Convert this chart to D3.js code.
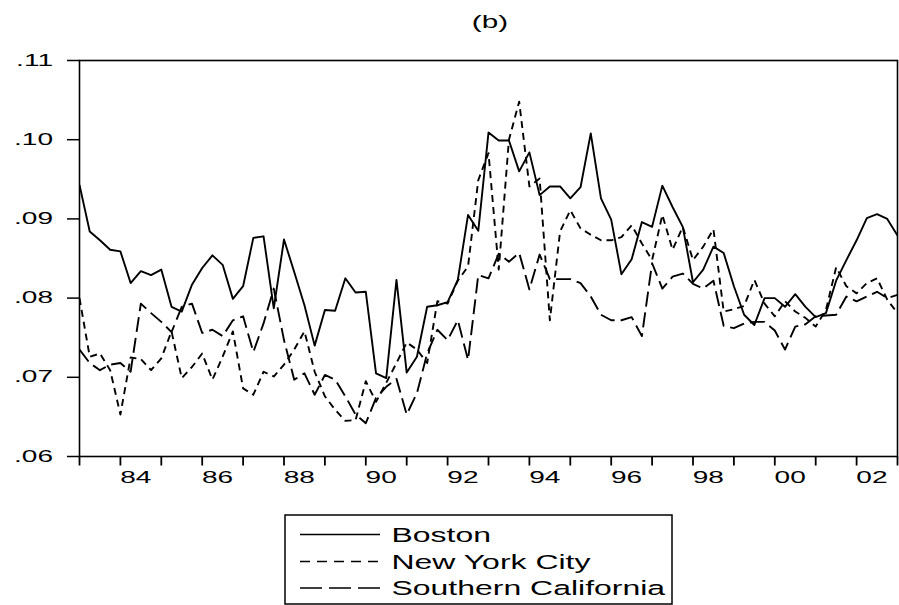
<!DOCTYPE html>
<html>
<head>
<meta charset="utf-8">
<script src="https://cdn.jsdelivr.net/npm/d3@7"></script>
<style>
  body { margin: 0; background: #fff; }
  svg { display: block; }
  text { font-family: "Liberation Sans", Arial, sans-serif; fill: #000; }
</style>
</head>
<body>
<svg id="chart" width="899" height="605"></svg>
<script>
// Quarterly series, 1983Q1 .. 2003Q1
const boston = [
  0.0943, 0.0884, 0.0873, 0.0861, 0.0859, 0.0819, 0.0834, 0.0829, 0.0836, 0.0789,
  0.0783, 0.0817, 0.0838, 0.0854, 0.0842, 0.0799, 0.0815, 0.0876, 0.0878, 0.0787,
  0.0874, 0.0833, 0.0791, 0.0740, 0.0785, 0.0784, 0.0825, 0.0807, 0.0808, 0.0705,
  0.0699, 0.0823, 0.0706, 0.0726, 0.0789, 0.0791, 0.0795, 0.0823, 0.0905, 0.0885,
  0.1009, 0.0999, 0.0999, 0.0960, 0.0984, 0.0930, 0.0941, 0.0941, 0.0926, 0.0940,
  0.1008, 0.0926, 0.0899, 0.0830, 0.0849, 0.0896, 0.0890, 0.0942, 0.0915, 0.0890,
  0.0820, 0.0836, 0.0865, 0.0857, 0.0815, 0.0779, 0.0766, 0.0800, 0.0800, 0.0789,
  0.0805, 0.0789, 0.0776, 0.0781, 0.0822, 0.0848, 0.0873, 0.0901, 0.0906, 0.0900,
  0.0879
];
const newYorkCity = [
  0.0800, 0.0726, 0.0730, 0.0709, 0.0653, 0.0725, 0.0723, 0.0709, 0.0724, 0.0758,
  0.0699, 0.0713, 0.0730, 0.0697, 0.0726, 0.0758, 0.0686, 0.0678, 0.0707, 0.0701,
  0.0716, 0.0735, 0.0758, 0.0707, 0.0676, 0.0659, 0.0645, 0.0646, 0.0695, 0.0669,
  0.0693, 0.0718, 0.0744, 0.0735, 0.0718, 0.0796, 0.0793, 0.0822, 0.0840, 0.0949,
  0.0983, 0.0836, 0.1000, 0.1048, 0.0941, 0.0951, 0.0772, 0.0884, 0.0911, 0.0888,
  0.0880, 0.0873, 0.0873, 0.0877, 0.0892, 0.0869, 0.0848, 0.0905, 0.0861, 0.0890,
  0.0848, 0.0865, 0.0887, 0.0783, 0.0786, 0.0790, 0.0823, 0.0793, 0.0777, 0.0796,
  0.0783, 0.0775, 0.0764, 0.0785, 0.0839, 0.0815, 0.0806, 0.0819, 0.0825, 0.0798,
  0.0781
];
const southernCalifornia = [
  0.0735, 0.0718, 0.0709, 0.0716, 0.0718, 0.0707, 0.0793, 0.0781, 0.0770, 0.0757,
  0.0789, 0.0793, 0.0756, 0.0760, 0.0752, 0.0772, 0.0777, 0.0732, 0.0768, 0.0812,
  0.0747, 0.0697, 0.0705, 0.0678, 0.0703, 0.0697, 0.0676, 0.0653, 0.0642, 0.0674,
  0.0688, 0.0698, 0.0653, 0.0680, 0.0730, 0.0760, 0.0747, 0.0772, 0.0722, 0.0829,
  0.0825, 0.0856, 0.0846, 0.0857, 0.0811, 0.0855, 0.0824, 0.0824, 0.0824, 0.0819,
  0.0802, 0.0779, 0.0772, 0.0772, 0.0776, 0.0752, 0.0844, 0.0812, 0.0827, 0.0831,
  0.0818, 0.0812, 0.0822, 0.0765, 0.0762, 0.0768, 0.0770, 0.0770, 0.0759, 0.0735,
  0.0764, 0.0767, 0.0777, 0.0778, 0.0779, 0.0802, 0.0796, 0.0802, 0.0808, 0.0800,
  0.0804
];

const firstYear = 1983;
const lastYear = 2003;
const periodsPerYear = 4;

const yTickValues = [0.06, 0.07, 0.08, 0.09, 0.10, 0.11];
const yTickLabels = [".06", ".07", ".08", ".09", ".10", ".11"];
const xLabelYears = [1984, 1986, 1988, 1990, 1992, 1994, 1996, 1998, 2000, 2002];
const xTickLabels = ["84", "86", "88", "90", "92", "94", "96", "98", "00", "02"];

const seriesNames = ["Boston", "New York City", "Southern California"];
const seriesData = [boston, newYorkCity, southernCalifornia];
const seriesDash = [null, "7,5", "15,6"];

const titleText = "(b)";

// Layout
const plot = { left: 79.5, right: 897.5, top: 60.5, bottom: 456.5 };
const textStretch = 1.7;     // glyphs are drawn wide
const legendStretch = 1.64;
const tickFont = 16.5;
const legendFont = 19.5;

const svg = d3.select("#chart");

const x = d3.scaleLinear().domain([firstYear, lastYear]).range([plot.left, plot.right]);
const y = d3.scaleLinear().domain([0.06, 0.11]).range([plot.bottom, plot.top]);

function wideText(parent, px, py, str, anchor, size, stretch = textStretch) {
  return parent.append("text")
    .attr("transform", `translate(${px},${py}) scale(${stretch},1)`)
    .attr("text-anchor", anchor)
    .attr("font-size", size)
    .text(str);
}

// Title
wideText(svg, 490, 28, titleText, "middle", tickFont + 1);

// Y axis ticks and labels
const yAxis = svg.append("g");
yTickValues.forEach((v, k) => {
  yAxis.append("line")
    .attr("x1", 67).attr("x2", plot.left)
    .attr("y1", y(v)).attr("y2", y(v))
    .attr("stroke", "#000").attr("stroke-width", 1.5);
  wideText(yAxis, 53, y(v) + 5, yTickLabels[k], "end", tickFont);
});

// X axis ticks (one per year) and labels
const xAxis = svg.append("g");
d3.range(firstYear, lastYear + 1).forEach(yr => {
  xAxis.append("line")
    .attr("x1", x(yr)).attr("x2", x(yr))
    .attr("y1", plot.bottom).attr("y2", plot.bottom + 9)
    .attr("stroke", "#000").attr("stroke-width", 1.8);
});
xLabelYears.forEach((yr, k) => {
  wideText(xAxis, x(yr + 0.375), 483, xTickLabels[k], "middle", tickFont);
});

// Series lines
const line = d3.line()
  .x((d, i) => x(firstYear + i / periodsPerYear))
  .y(d => y(d));

svg.append("clipPath").attr("id", "plotClip")
  .append("rect")
  .attr("x", plot.left).attr("y", plot.top)
  .attr("width", plot.right - plot.left).attr("height", plot.bottom - plot.top);

const lines = svg.append("g").attr("clip-path", "url(#plotClip)");
seriesData.forEach((s, k) => {
  lines.append("path")
    .datum(s)
    .attr("d", line)
    .attr("fill", "none")
    .attr("stroke", "#000")
    .attr("stroke-width", 1.9)
    .attr("stroke-linejoin", "round")
    .attr("stroke-dasharray", seriesDash[k]);
});

// Frame
svg.append("rect")
  .attr("x", plot.left).attr("y", plot.top)
  .attr("width", plot.right - plot.left).attr("height", plot.bottom - plot.top)
  .attr("fill", "none").attr("stroke", "#000").attr("stroke-width", 1.6);

// Legend
const legend = { left: 285, top: 515, right: 672, bottom: 604 };
const lg = svg.append("g");
lg.append("rect")
  .attr("x", legend.left).attr("y", legend.top)
  .attr("width", legend.right - legend.left).attr("height", legend.bottom - legend.top)
  .attr("fill", "#fff").attr("stroke", "#000").attr("stroke-width", 1.5);
const rowY = [534.5, 561.5, 588];
seriesNames.forEach((name, k) => {
  lg.append("line")
    .attr("x1", 300).attr("x2", 380)
    .attr("y1", rowY[k]).attr("y2", rowY[k])
    .attr("stroke", "#000").attr("stroke-width", 1.5)
    .attr("stroke-dasharray", k === 0 ? null : (k === 1 ? "10,7" : "22,7"));
  wideText(lg, 391.5, rowY[k] + 7, name, "start", legendFont, legendStretch);
});
</script>
</body>
</html>
